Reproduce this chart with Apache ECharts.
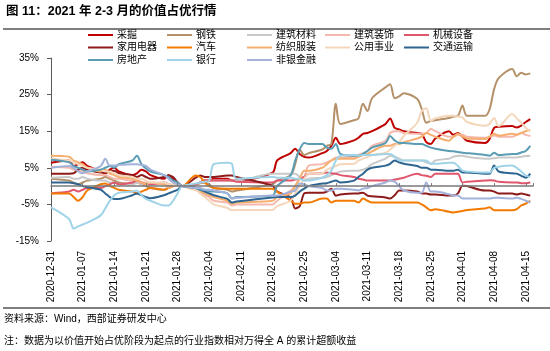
<!DOCTYPE html>
<html>
<head>
<meta charset="utf-8">
<script src="https://cdn.jsdelivr.net/npm/echarts/dist/echarts.min.js"></script>
<style>
  html, body { margin: 0; padding: 0; background: #fff; }
  #chart { width: 550px; height: 351px; }
</style>
</head>
<body>
<div id="chart"></div>
<script>
// trading days
var dates = ['2020-12-31',
  '2021-01-04','2021-01-05','2021-01-06','2021-01-07','2021-01-08',
  '2021-01-11','2021-01-12','2021-01-13','2021-01-14','2021-01-15',
  '2021-01-18','2021-01-19','2021-01-20','2021-01-21','2021-01-22',
  '2021-01-25','2021-01-26','2021-01-27','2021-01-28','2021-01-29',
  '2021-02-01','2021-02-02','2021-02-03','2021-02-04','2021-02-05',
  '2021-02-08','2021-02-09','2021-02-10',
  '2021-02-18','2021-02-19',
  '2021-02-22','2021-02-23','2021-02-24','2021-02-25','2021-02-26',
  '2021-03-01','2021-03-02','2021-03-03','2021-03-04','2021-03-05',
  '2021-03-08','2021-03-09','2021-03-10','2021-03-11','2021-03-12',
  '2021-03-15','2021-03-16','2021-03-17','2021-03-18','2021-03-19',
  '2021-03-22','2021-03-23','2021-03-24','2021-03-25','2021-03-26',
  '2021-03-29','2021-03-30','2021-03-31','2021-04-01','2021-04-02',
  '2021-04-06','2021-04-07','2021-04-08','2021-04-09',
  '2021-04-12','2021-04-13','2021-04-14','2021-04-15','2021-04-16'];

var xTicks = ['2020-12-31','2021-01-07','2021-01-14','2021-01-21','2021-01-28','2021-02-04',
  '2021-02-11','2021-02-18','2021-02-25','2021-03-04','2021-03-11','2021-03-18',
  '2021-03-25','2021-04-01','2021-04-08','2021-04-15'];

var names = ['采掘','钢铁','建筑材料','建筑装饰','机械设备',
  '家用电器','汽车','纺织服装','公用事业','交通运输',
  '房地产','银行','非银金融'];

var colors = ['#C00000','#B5916A','#C9C9C9','#F4B9AC','#E0566C',
  '#8E1B1B','#F27A00','#F5AE6E','#F4D6BA','#2E6590',
  '#5A9CB3','#9FD4E8','#A2B2DA'];

var caiJue = [6.4,
  7, 5.5, 6, 6.5, 5.5,
  4, 3.5, 4.5, 5, 4,
  3, 3.5, 4.5, 4, 3,
  2, 3, 2, 1, 0,
  0.5, 1, 1.5, 1.5, 2,
  2, 1.5, 1.5,
  3.7, 7,
  9, 10.2, 8.8, 8, 7.8,
  9, 9.6, 11, 13.2, 11.5,
  12.5, 13.2, 14.3, 14.5, 15,
  17, 18.5, 15.9, 15.5, 15,
  14.5, 14.3, 12, 11.5, 13,
  15, 14, 14.5, 13.5, 12.4,
  11.8, 12.9, 15.9, 16.2,
  16.4, 16, 16.5, 17.5, 18.3];

var gangTie = [2,
  1.5, 1, 0.5, 1, 1.5,
  2, 2.5, 2, 1.5, 1,
  0.5, 1, 0.5, 0, -0.5,
  -1, -0.5, 0, 0.5, 0,
  0.5, 0.8, 1, 0.5, -0.5,
  -1, -1.5, -1.2,
  0.5, 1.5,
  3, 6, 10, 8.5, 9,
  10, 11, 11.5, 22.5, 17,
  18, 18.5, 22.5, 20.5, 24,
  27, 27.8, 24, 24.5, 25.4,
  23.8, 21, 17.3, 17.8, 18,
  18.6, 19, 19.2, 22, 19.2,
  19.2, 21, 26.5, 29.5,
  32, 30, 31, 30.5, 30.8];

var jianCai = [2.3,
  2.5, 2, 2, 2.5, 2,
  1.5, 1.5, 1, 1, 0.5,
  0.5, 1, 0.5, 0.5, 0.5,
  0.5, 0.3, 0, 0.3, 0,
  0.5, 1, 1.5, 1.5, 1.5,
  1.5, 1.5, 1.5,
  3.4, 3.4,
  3.4, 3.4, 2.5, 1.5, 2,
  2.3, 2.5, 3, 3.5, 4,
  4.2, 4.2, 4.5, 5, 6,
  7.5, 8.3, 8, 7.5, 7,
  7, 7, 6.5, 6.1, 7,
  7.5, 8, 8.3, 8.3, 8,
  7.5, 7.5, 7.6, 7.8,
  7.8, 7.8, 8, 8.2, 8.3];

var jianZhuang = [5.3,
  5, 4.5, 4.5, 4, 3.5,
  3, 3, 2.5, 2, 2,
  1.5, 1.5, 1, 1, 0.5,
  0.5, 0, 0.5, 0.5, 0,
  -0.5, -1.5, -2.5, -3, -4,
  -4.5, -5.3, -5,
  -5, -4,
  -1.2, 0, 2, 2.5, 5.6,
  6, 6.5, 7, 7.8, 7.8,
  8, 8.5, 9, 9.6, 11,
  12.4, 14.5, 15, 15, 14.5,
  14.3, 14.3, 14.5, 15.6, 15,
  13.5, 13.5, 14, 14, 13.5,
  13.2, 13.5, 13.8, 13.5,
  13.5, 14, 14.5, 14, 13.7];

var jiXie = [-2,
  -1.5, -1, -1.5, -1, -0.5,
  -0.5, 0, 0.5, 1, 0.5,
  1, 1.5, 1, 0.5, 0.5,
  1, 0.5, 0, 0.5, 0,
  0.5, 1, 1.5, 1.5, 1.5,
  1.5, 1.5, 1.2,
  1, 1.5,
  1.5, 1.8, 2, 2.5, 3.4,
  3.5, 3.7, 3.5, 3.4, 3,
  2.5, 2, 1.8, 1.5, 1.5,
  1.5, 1.5, 1.8, 2, 2.3,
  3.4, 3, 2.8, 2.5, 3.4,
  3.4, 3.4, 3.4, 1, 1.2,
  1.5, 1.6, 1.5, 1.2,
  1, 1, 0.8, 0.8, 1];

var jiaDian = [3.4,
  3.4, 3.5, 4.5, 5, 4.5,
  3.7, 3.7, 4, 4.2, 3.5,
  3, 2.5, 3, 2.5, 2,
  2.5, 2.9, 2.5, 1, 0,
  2.3, 2.9, 2.5, 2.5, 2.5,
  2.9, 2.9, 2.5,
  0.1, -1.5,
  -3.1, -6.1, -5.5, -2, -1.8,
  -1.8, -1.5, -0.7, -2.6, -2.3,
  -2, -2, -1.8, -2.6, -2.8,
  -3.1, -3.4, -2.5, -1.2, -1.2,
  -1.5, -2, -2, -2.3, -2.3,
  -2.6, -2.6, -2, 0.1, 0,
  -1.2, -1.2, -1.5, -2,
  -2, -2.3, -2, -2.3, -2.6];

var qiChe = [-2,
  -2, -3, -4, -3, -1.2,
  0.5, 0.7, 0, -0.5, -1,
  -1.5, -2, -1.5, -1, -0.5,
  -1, -0.5, 0, 0.5, 0,
  2.9, 2.5, 1, 0, -0.5,
  -0.7, -0.7, -0.7,
  -0.7, -1.5,
  -4, -4.8, -4.8, -4.5, -4.5,
  -3.4, -3.4, -4.5, -4, -4,
  -4, -4.5, -3.4, -4, -4.5,
  -4.5, -4.5, -4.5, -4.5, -4.5,
  -4.5, -5, -5.8, -6.6, -6.3,
  -7, -7.2, -7, -6.8, -6.5,
  -6.1, -5.8, -6.6, -6.6,
  -6.6, -6.3, -5.3, -4.8, -4];

var fangZhi = [8.3,
  8, 7, 6.5, 6, 5,
  4, 4.5, 3.5, 3, 2.5,
  2, 1.5, 1, 0.5, 1,
  0.5, -0.5, 0, 0.5, 0,
  -1, -1.5, -2, -2.5, -3,
  -4, -4.8, -4.5,
  -4, -3,
  -2, 0, 2, 4.2, 4.2,
  5, 6, 7, 7.5, 7.5,
  7.5, 8, 8.5, 8.8, 9.5,
  11, 11, 11.5, 11.5, 12,
  13, 13.5, 14.5, 14, 13.5,
  12.4, 13.5, 14.3, 13.5, 13,
  12.9, 13.5, 14.3, 13.8,
  14.3, 14, 14.5, 15, 15.3];

var gongYong = [7.5,
  7, 6.5, 6, 5.5, 5,
  4.5, 4, 4, 3.5, 3,
  2.5, 2, 2, 1.5, 1,
  1, 0.5, 0.5, 0, 0,
  -1, -2, -3, -4, -5,
  -6, -6.6, -6.5,
  -6.5, -5.5,
  -4, -2, 0, 2, 3.4,
  3.5, 4.5, 5, 5.5, 6,
  6.1, 7, 7.5, 8, 8.5,
  9.1, 10, 11, 12, 13.7,
  17.3, 20.5, 21.3, 17.8, 18.5,
  19.2, 19.2, 19, 18.7, 17.5,
  16.5, 17, 18.6, 16.4,
  19.7, 18.5, 17.3, 15.9, 15];

var jiaoTong = [1,
  1, 0.8, 0.5, 0, -0.3,
  -1, -2, -3, -3.5, -3.5,
  -2.5, -2, -2.5, -3, -3.3,
  -2.5, -2, -1.5, -1, 0,
  -0.5, -1, -1.5, -2, -2.5,
  -3.5, -4.5, -4.2,
  -3.1, -3,
  -3, -2.6, -1.5, -0.7, 0,
  0.7, 0.8, 1.2, 1.5, 1,
  1.5, 2.5, 3.4, 4.5, 5,
  5.6, 6.1, 7, 6.5, 6.1,
  5.5, 5, 5, 4.5, 4.5,
  4.2, 4.2, 4.5, 3.7, 3.7,
  3.4, 3.4, 5.6, 4,
  3.5, 3.4, 2.8, 2.3, 3.4];

var fangDiChan = [7.2,
  6.5, 5.5, 5, 4.5, 4,
  4.5, 5, 5.5, 5, 6,
  7, 8.3, 6, 4.8, 4,
  3, 2.5, 1.5, 1, 0,
  -0.5, -1, -1, -1.5, -1.5,
  -2, -3.4, -3,
  -2.6, 0,
  3, 7, 10, 11.8, 11.5,
  11.5, 10.5, 10.2, 11.5, 8.8,
  8.3, 8.3, 8.8, 9.6, 10.5,
  11.8, 13.7, 12.5, 11.8, 11.8,
  11.5, 11.5, 11, 10.5, 10.2,
  9.6, 9.5, 9.3, 9.1, 9,
  8.5, 8.3, 9.1, 8.5,
  8.8, 8.8, 9.2, 9.6, 11];

var yinHang = [-5.8,
  -9, -11.6, -11, -10.5, -10,
  -8, -6.1, -4, -2.5, -1.8,
  -1.5, -1.2, -2.5, -3.5, -4,
  -5.3, -5.3, -4, -2, 0,
  0.7, 1, 1.2, 1.5, 6,
  6.4, 6.1, 2,
  2.5, 2.3,
  2.3, 2, 2, 1.5, 1.5,
  2.3, 3, 4.2, 7, 8.3,
  8.5, 8.3, 8.5, 8.5, 8.5,
  8.8, 8.8, 8, 7, 7,
  7, 7, 7, 6.1, 6.1,
  6.4, 6.4, 5.5, 4.2, 4,
  3.7, 3.7, 5, 5.3,
  5.6, 5, 4, 2.9, 2.5];

var feiYin = [5,
  5.5, 5, 4, 3.5, 4,
  5.5, 7.5, 5.6, 5.6, 5.8,
  6, 6, 5.8, 5.5, 4.5,
  3, 2, 1, 0.5, 0,
  -0.5, -0.5, -1, -1, -1.2,
  -2, -3.4, -3.2,
  -2.6, -2.6,
  -1.5, -1.2, 0.7, 0.5, 0,
  -0.5, -1.2, -1.2, -0.7, -0.7,
  -1, -1.2, -0.7, -0.5, 0,
  1, 1.5, 1.2, 0, -1.2,
  -1.8, -1.8, 1, -1.5, -1.5,
  -2.2, -2.6, -2.6, -3.4, -3.4,
  -3.4, -3.4, -3.2, -3.2,
  -3.4, -3.2, -3.5, -4, -4.5];

var seriesValues = [caiJue, gangTie, jianCai, jianZhuang, jiXie,
  jiaDian, qiChe, fangZhi, gongYong, jiaoTong,
  fangDiChan, yinHang, feiYin];

var FONT = '"Liberation Sans", "Noto Sans CJK SC", sans-serif';
var base = Date.parse(dates[0]);
function dayOf(d) {
  return Math.round((Date.parse(d) - base) / 86400000);
}

var series = names.map(function (name, i) {
  return {
    name: name,
    type: 'line',
    smooth: 0.3,
    symbol: 'none',
    lineStyle: { width: 2, color: colors[i] },
    itemStyle: { color: colors[i] },
    data: dates.map(function (d, k) { return [dayOf(d), seriesValues[i][k]]; })
  };
});

var colLeft = [88, 167, 247, 325, 404];
var legends = colLeft.map(function (left, c) {
  return {
    orient: 'vertical',
    left: left,
    top: 29,
    padding: 0,
    icon: 'rect',
    itemWidth: 25,
    itemHeight: 2,
    itemGap: 0.5,
    textStyle: { fontSize: 10, lineHeight: 12, color: '#000', fontFamily: FONT, padding: [0, 0, 0, -1] },
    data: [names[c], names[c + 5], names[c + 10]].filter(Boolean)
  };
});

var myChart = echarts.init(document.getElementById('chart'));
myChart.setOption({
  animation: false,
  color: colors,
  textStyle: { fontFamily: FONT },
  graphic: [
    { type: 'text', left: 6, top: 5,
      style: { text: '图 11：2021 年 2-3 月的价值占优行情', font: 'bold 12.5px ' + FONT, fill: '#000' } },
    { type: 'line', shape: { x1: 3, y1: 29, x2: 550, y2: 29 }, style: { stroke: '#7f7f7f', lineWidth: 2 } },
    { type: 'line', shape: { x1: 3, y1: 308, x2: 550, y2: 308 }, style: { stroke: '#7f7f7f', lineWidth: 2 } },
    { type: 'text', left: 4, top: 314,
      style: { text: '资料来源：Wind，西部证券研发中心', font: '10px ' + FONT, fill: '#000' } },
    { type: 'text', left: 4, top: 336,
      style: { text: '注：数据为以价值开始占优阶段为起点的行业指数相对万得全 A 的累计超额收益', font: '10px ' + FONT, fill: '#000' } }
  ],
  legend: legends,
  grid: { left: 51, right: 17, top: 58, bottom: 110, containLabel: false, outerBoundsMode: 'none' },
  xAxis: [
    {
      type: 'value', min: 0, max: 106.6, interval: 7,
      axisLine: { show: false, onZero: false },
      axisTick: { show: false },
      splitLine: { show: false },
      axisLabel: {
        rotate: 90, fontSize: 10, margin: 10, color: '#000', fontFamily: FONT,
        showMaxLabel: false,
        formatter: function (v) {
          var k = Math.round(v / 7);
          return Math.abs(v - k * 7) < 0.01 && xTicks[k] ? xTicks[k] : '';
        }
      }
    },
    {
      type: 'value', position: 'top', min: 0, max: 106.6, interval: 7, z: 5,
      axisLine: { show: true, onZero: true, lineStyle: { color: '#7a7a7a', width: 1.5 } },
      axisTick: { show: true, length: 3, lineStyle: { color: '#7a7a7a' } },
      axisLabel: { show: false },
      splitLine: { show: false }
    }
  ],
  yAxis: {
    type: 'value', min: -15, max: 35, interval: 10,
    axisLine: { show: true, onZero: false, lineStyle: { color: '#595959' } },
    axisTick: { show: true, length: 4, lineStyle: { color: '#595959' } },
    splitLine: { show: false },
    axisLabel: { formatter: '{value}%', fontSize: 10, margin: 12, color: '#000', fontFamily: FONT }
  },
  series: series
});
</script>
</body>
</html>
